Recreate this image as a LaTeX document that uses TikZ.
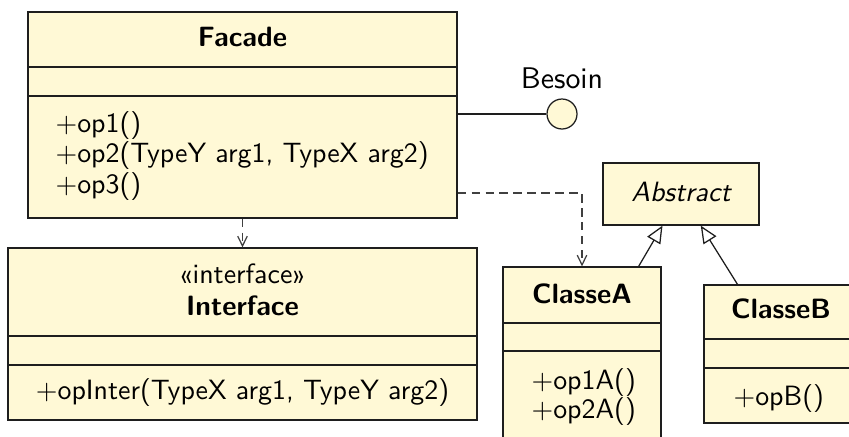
\documentclass[tikz,border=0pt]{standalone}
\usepackage{fontspec}
\usetikzlibrary{fit,arrows.meta}
\definecolor{umlfill}{RGB}{255,249,214}
\definecolor{umlline}{RGB}{30,30,30}
\begin{document}
\begin{tikzpicture}[x=0.3584pt, y=-0.3584pt,
  box/.style={draw=umlline, fill=umlfill, inner sep=0pt, line width=0.45pt},
  sep/.style={draw=umlline, line width=0.45pt},
  txt/.style={inner sep=0pt, font=\sffamily},
  title/.style={txt, font=\sffamily\bfseries, anchor=base},
  oper/.style={txt, anchor=base west},
  dep/.style={draw=umlline!85, line width=0.45pt, dash pattern=on 3pt off 2pt,
    -{Straight Barb[length=3.5pt, width=3.4pt]}},
  inh/.style={draw=umlline, line width=0.45pt,
    -{Triangle[open, length=6.2pt, width=5.4pt]}},
  iface/.style={draw=umlline, fill=umlfill, circle, inner sep=0pt,
    minimum size=10.75pt, line width=0.45pt}]
\useasboundingbox (0,0) rectangle (849,436);
\clip (0,0) rectangle (849,436);

% Facade class
\node[box, fit={(28,12)(457,218)}] (facade) {};
\draw[sep] (facade.west |- 0,67) -- (facade.east |- 0,67);
\draw[sep] (facade.west |- 0,96) -- (facade.east |- 0,96);
\node[title] (facadeName) at (242.5,46) {Facade};
\node[oper] (op1) at (55,132) {$+$op1()};
\node[oper] (op2) at (55,162) {$+$op2(TypeY arg1, TypeX arg2)};
\node[oper] (op3) at (55,193) {$+$op3()};

% Interface
\node[box, fit={(8,248)(477,420)}] (interface) {};
\draw[sep] (interface.west |- 0,336) -- (interface.east |- 0,336);
\draw[sep] (interface.west |- 0,365) -- (interface.east |- 0,365);
\node[txt, anchor=base] (stereo) at (242.5,283) {«interface»};
\node[title] (interfaceName) at (242.5,315) {Interface};
\node[txt, anchor=base] (opInter) at (242.5,399) {$+$opInter(TypeX arg1, TypeY arg2)};

% Abstract class
\node[box, fit={(603,163)(759,225)}] (abstract) {};
\node[txt, font=\sffamily\itshape, anchor=base] (abstractName) at (681,201) {Abstract};

% ClasseA
\node[box, fit={(503,267)(661,459)}] (classA) {};
\draw[sep] (classA.west |- 0,323) -- (classA.east |- 0,323);
\draw[sep] (classA.west |- 0,351) -- (classA.east |- 0,351);
\node[title] (classAName) at (582,303) {ClasseA};
\node[oper] (op1A) at (531,389) {$+$op1A()};
\node[oper] (op2A) at (531,418) {$+$op2A()};

% ClasseB
\node[box, fit={(704,285)(858,423)}] (classB) {};
\draw[sep] (classB.west |- 0,339) -- (classB.east |- 0,339);
\draw[sep] (classB.west |- 0,368) -- (classB.east |- 0,368);
\node[title] (classBName) at (781,318) {ClasseB};
\node[oper] (opB) at (733,405) {$+$opB()};

% Provided interface "Besoin"
\node[iface] (besoin) at (562,114) {};
\node[txt, font=\sffamily\fontsize{10.7}{12}\selectfont, anchor=base] (besoinLabel) at (562,88) {Besoin};

% Connectors
\draw[sep] (facade.east |- besoin) -- (besoin);
\draw[dep] (facade) -- (interface);
\coordinate (depA) at (facade.east |- 0,193);
\draw[dep] (depA) -| (classA);
\draw[inh] (classA) -- (abstract);
\draw[inh] (classB) -- (abstract);
\end{tikzpicture}
\end{document}
